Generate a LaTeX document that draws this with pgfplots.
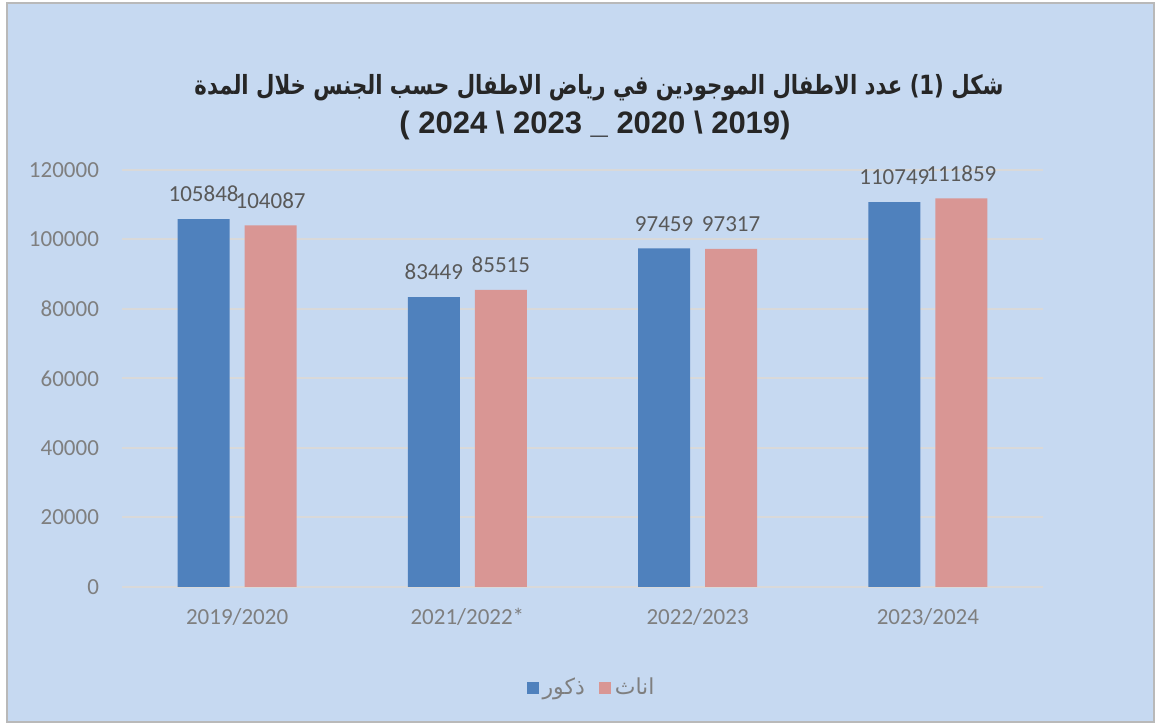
\documentclass[border=0pt]{standalone}
\usepackage{pgfplots}
\pgfplotsset{compat=1.18}
\usepackage{fontspec}
\setmainfont{Carlito}
\newfontfamily\arabicfont[Script=Arabic]{DejaVu Sans}
\newfontfamily\arabictitle[Script=Arabic]{DejaVu Sans Condensed}
\newfontfamily\titlefont{Liberation Sans}
\TeXXeTstate=1
\definecolor{bg}{HTML}{C6D9F1}
\definecolor{bblue}{HTML}{4F81BD}
\definecolor{bpink}{HTML}{D99694}
\definecolor{gridc}{HTML}{D9D9D9}
\definecolor{tickc}{HTML}{7F7F7F}
\definecolor{labc}{HTML}{595959}
\begin{document}
\begin{tikzpicture}
\path[use as bounding box] (0pt,0pt) rectangle (579.5pt,363pt);
\fill[white] (0pt,0pt) rectangle (579.5pt,363pt);
\draw[fill=bg, draw=gray!55, line width=0.8pt] (3.5pt,2pt) rectangle (577pt,361.5pt);
\node[font=\arabictitle\bfseries\fontsize{11.8}{15}\selectfont, text=black!85, yscale=1.12] at (299.5pt,319pt) {\beginR شكل (1) عدد الاطفال الموجودين في رياض الاطفال حسب الجنس خلال المدة\endR};
\node[font=\titlefont\bfseries\fontsize{15.5}{18}\selectfont, text=black!85] at (297.5pt,300.5pt) {( 2024 \textbackslash{} 2023 \_ 2020 \textbackslash{} 2019)};
\begin{axis}[
  at={(61pt,69.5pt)}, anchor=south west,
  scale only axis, width=460.5pt, height=208.5pt,
  xmin=-0.5, xmax=3.5, ymin=0, ymax=120000,
  ybar, bar width=26pt,
  axis line style={draw=none}, major tick length=0pt,
  ymajorgrids, grid style={gridc, line width=1pt},
  xtick={0,1,2,3},
  xticklabels={2019/2020, 2021/2022*, 2022/2023, 2023/2024},
  ytick={0,20000,40000,60000,80000,100000,120000},
  scaled y ticks=false,
  /pgf/number format/assume math mode=true,
  yticklabel style={/pgf/number format/1000 sep={}, /pgf/number format/fixed, xshift=-8pt},
  xticklabel style={yshift=-7pt},
  tick label style={font=\fontsize{11.5}{13}\selectfont, text=tickc},
  nodes near coords,
  every node near coord/.append style={font=\fontsize{11.5}{13}\selectfont, text=labc, /pgf/number format/1000 sep={}, /pgf/number format/fixed, yshift=5pt},
  legend style={at={(0.5,0)}, anchor=center, xshift=5pt, yshift=-50.5pt, draw=none, fill=none,
    legend columns=2, font=\arabicfont\fontsize{11}{13}\selectfont, text=tickc,
    /tikz/every even column/.append style={column sep=5pt}},
  legend image code/.code={\fill[#1] (-2pt,-3pt) rectangle (4pt,3pt);},
]
\addplot[fill=bblue, draw=none, bar shift=-16.75pt] coordinates {(0,105848) (1,83449) (2,97459) (3,110749)};
\addplot[fill=bpink, draw=none, bar shift=16.75pt] coordinates {(0,104087) (1,85515) (2,97317) (3,111859)};
\legend{{\beginR ذكور\endR}, {\beginR اناث\endR}}
\end{axis}
\end{tikzpicture}
\end{document}
